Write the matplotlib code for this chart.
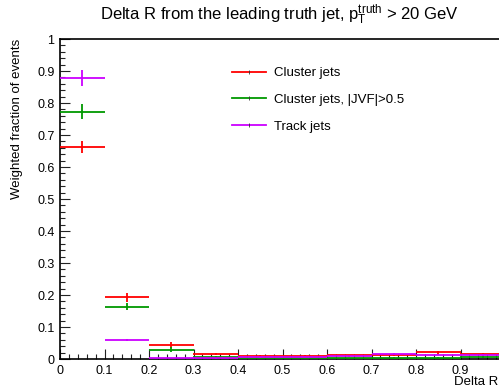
import matplotlib
matplotlib.use("Agg")
import matplotlib.pyplot as plt
from matplotlib.ticker import MultipleLocator
from matplotlib.lines import Line2D
import numpy as np

plt.rcParams['font.family'] = ['Liberation Sans', 'DejaVu Sans']
plt.rcParams['mathtext.fontset'] = 'custom'
plt.rcParams['mathtext.rm'] = 'Liberation Sans'
plt.rcParams['mathtext.it'] = 'Liberation Sans'

bin_edges = [0.0, 0.1, 0.2, 0.3, 0.4, 0.5, 0.6, 0.7, 0.8, 0.9, 1.0]
series_names = ["Cluster jets", "Cluster jets, |JVF|>0.5", "Track jets"]
cluster_vals = [0.663, 0.193, 0.043, 0.015, 0.009, 0.010, 0.011, 0.011, 0.021, 0.016]
cluster_errs = [0.019, 0.014, 0.009, 0.004, 0.003, 0.003, 0.003, 0.003, 0.004, 0.003]
jvf_vals = [0.773, 0.163, 0.029, 0.007, 0.003, 0.002, 0.002, 0.003, 0.004, 0.006]
jvf_errs = [0.024, 0.011, 0.008, 0.003, 0.002, 0.001, 0.001, 0.002, 0.002, 0.002]
track_vals = [0.877, 0.059, 0.003, 0.002, 0.005, 0.007, 0.008, 0.015, 0.014, 0.013]
track_errs = [0.025, 0.004, 0.001, 0.001, 0.002, 0.002, 0.002, 0.003, 0.003, 0.003]
colors = ["#ff0000", "#009900", "#cc00ff"]

fig = plt.figure(figsize=(4.99, 3.88), dpi=100)
W, H = 499, 388
ax = fig.add_axes([60 / W, 1 - 359 / H, (505 - 60) / W, (359 - 39) / H])

edges = np.array(bin_edges)
centers = (edges[:-1] + edges[1:]) / 2
halfw = (edges[1:] - edges[:-1]) / 2
for vals, errs, c in zip([cluster_vals, jvf_vals, track_vals],
                         [cluster_errs, jvf_errs, track_errs], colors):
    ax.errorbar(centers, vals, xerr=halfw, yerr=errs, fmt='none',
                ecolor=c, elinewidth=1.3, capsize=0, zorder=3)

ax.set_xlim(0, 1)
ax.set_ylim(0, 1)
ax.xaxis.set_major_locator(MultipleLocator(0.1))
ax.xaxis.set_minor_locator(MultipleLocator(0.02))
ax.yaxis.set_major_locator(MultipleLocator(0.1))
ax.yaxis.set_minor_locator(MultipleLocator(0.02))
ax.tick_params(which='both', direction='in', top=False, right=False,
               labelsize=9, width=0.8, color='#222222')
ax.tick_params(which='major', length=7.5, pad=4)
ax.tick_params(which='minor', length=3.8)

def yfmt(v, pos):
    if abs(v) < 1e-9:
        return '0'
    if abs(v - 1) < 1e-9:
        return '1'
    return f'{v:.1f}'

def xfmt(v, pos):
    if abs(v) < 1e-9:
        return '0'
    if v > 0.95:
        return ''
    return f'{v:.1f}'
ax.xaxis.set_major_formatter(plt.FuncFormatter(xfmt))
ax.yaxis.set_major_formatter(plt.FuncFormatter(yfmt))
for s in ax.spines.values():
    s.set_linewidth(1.2)

fig.text(279 / W, 1 - 15 / H,
         r'Delta R from the leading truth jet, $\mathrm{p}_{\mathrm{T}}^{\mathrm{truth}}$ > 20 GeV',
         ha='center', va='center', fontsize=12)
fig.text(17 / W, 1 - 39 / H, 'Weighted fraction of events', rotation=90,
         ha='center', va='top', fontsize=9.5)
fig.text(498 / W, 1 - 382 / H, 'Delta R', ha='right', va='center', fontsize=9.5)

handles = [Line2D([0], [0], color=c, lw=1.3, marker='|', markersize=3,
                  markeredgecolor='#333333', markeredgewidth=0.6) for c in colors]
fig.legend(handles, series_names, loc='upper left',
           bbox_to_anchor=(232 / W, 1 - 67 / H), frameon=False, fontsize=9.5,
           handlelength=2.6, handletextpad=0.55, labelspacing=1.1,
           borderpad=0, borderaxespad=0)

fig.savefig('out.png', dpi=100)
